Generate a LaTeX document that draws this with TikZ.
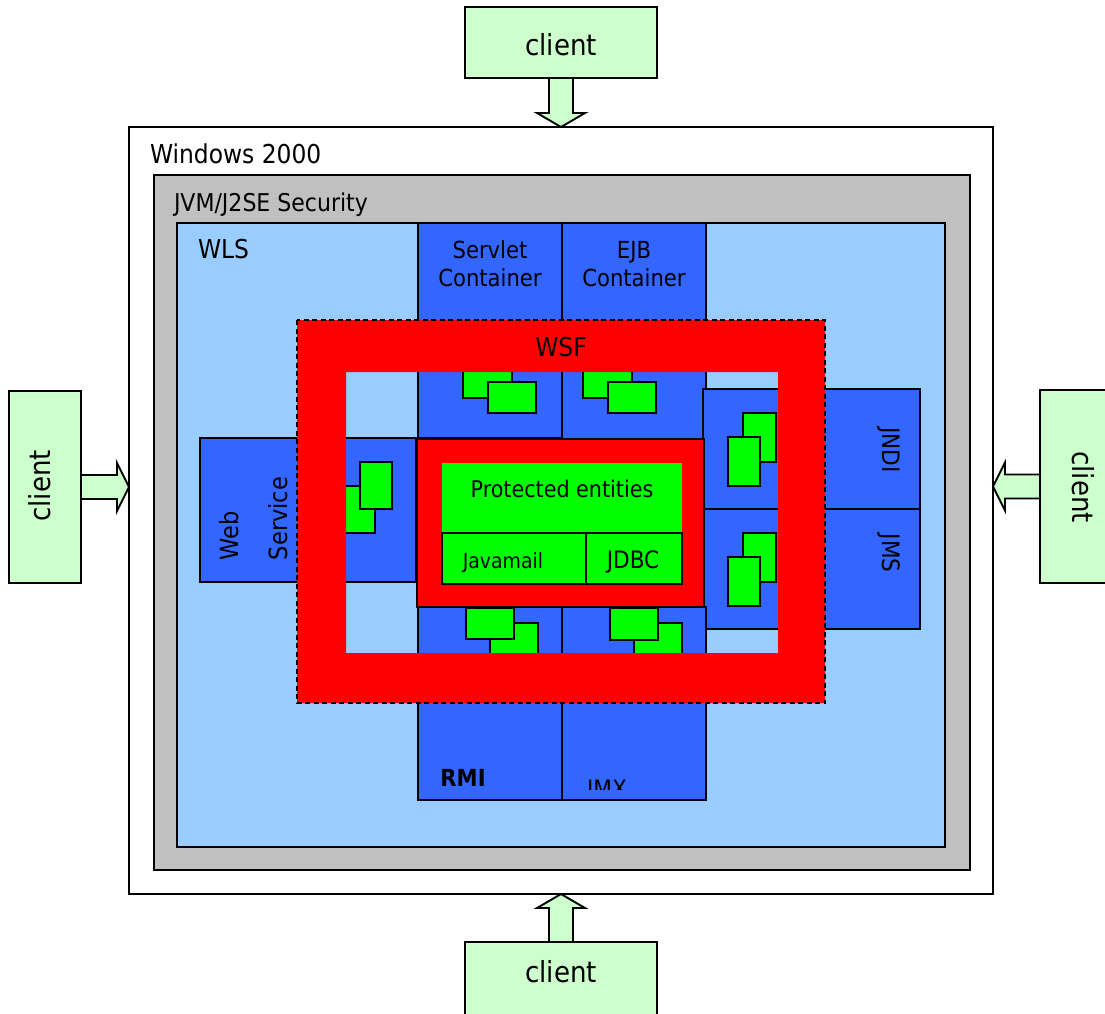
\documentclass[tikz,border=0pt]{standalone}
\usepackage{fontspec}
\setmainfont{DejaVu Sans Condensed}
\usepackage{xcolor}
\usetikzlibrary{calc, positioning}

\definecolor{clientgreen}{HTML}{CCFFCC}
\definecolor{wlsblue}{HTML}{99CCFF}
\definecolor{contblue}{HTML}{3366FF}
\definecolor{jvmgray}{HTML}{C0C0C0}
\definecolor{iconfill}{HTML}{00FF00}
\definecolor{wsfred}{HTML}{FF0000}

\newcommand{\pxfont}[1]{\fontsize{#1}{#1}\selectfont}

\begin{document}
\begin{tikzpicture}[x=1pt, y=-1pt, line width=1.9pt,
    every node/.style={inner sep=0pt, outer sep=0pt},
    box/.style={draw, anchor=north west},
    client/.style={box, fill=clientgreen},
    cont/.style={box, fill=contblue},
    icon/.style={draw, fill=iconfill},
    blockarr/.style={draw, fill=clientgreen, line join=miter}]
    \useasboundingbox (0,0) rectangle (1105,1013);
    \clip (0,0) rectangle (1105,1013);

    % 1. Lop nen
    \node[box, fill=white, minimum width=864, minimum height=767] (win) at (129,127) {};
    \node[box, fill=jvmgray, minimum width=816, minimum height=695] (jvm) at (154,175) {};
    \node[box, fill=wlsblue, minimum width=768, minimum height=624] (wls) at (177,223) {};

    % 2. Cac container
    \node[cont, minimum width=144, minimum height=215] (servlet) at (418,223) {};
    \node[cont, minimum width=144, minimum height=217] (ejb) at (562,223) {};
    \node[cont, minimum width=216, minimum height=144] (websvc) at (200,438) {};
    \node[cont, minimum width=217, minimum height=120] (jndi) at (703,389) {};
    \node[cont, minimum width=217, minimum height=120] (jms) at (703,509) {};
    \node[cont, minimum width=144, minimum height=193] (rmi) at (418,607) {};
    \node[cont, minimum width=144, minimum height=193] (jmx) at (562,607) {};

    % 3. Bieu tuong xanh
    \foreach \xa/\ya/\xb/\yb in {463/367/512/398, 488/382/536/413,
        583/367/632/398, 608/382/656/413,
        343/486/375/533, 360/462/392/509,
        743/413/776/462, 728/437/760/486,
        743/533/776/582, 728/557/760/606,
        490/623/538/654, 466/608/514/639,
        634/623/682/654, 610/608/658/640} {
        \draw[icon] (\xa,\ya) rectangle (\xb,\yb);
    }

    % 4. Protected entities
    \node[box, fill=wsfred, minimum width=287, minimum height=168] (prot) at (417,439) {};
    \node[anchor=north west, fill=iconfill, minimum width=240, minimum height=70] (pent) at (442,463) {};
    \node[box, fill=iconfill, minimum width=144, minimum height=51] (javamail) at (442,533) {};
    \node[box, fill=iconfill, minimum width=96, minimum height=51] (jdbc) at (586,533) {};

    % 5. Khung WSF
    \node[anchor=north west, minimum width=528, minimum height=383] (wsf) at (297,320) {};
    \fill[wsfred, even odd rule] (wsf.north west) rectangle (wsf.south east)
        ($(wsf.north west)+(49,52)$) rectangle ($(wsf.south east)+(-47,-50)$);
    \draw[dash pattern=on 5pt off 3.5pt] (wsf.north west) rectangle (wsf.south east);

    % 6. Client va mui ten
    \node[client, minimum width=192, minimum height=71] (ctop) at (465,7) {};
    \node[client, minimum width=72, minimum height=192] (cleft) at (9,391) {};
    \node[client, minimum width=80, minimum height=193] (cright) at (1040,390) {};
    \node[client, minimum width=192, minimum height=90] (cbot) at (465,942) {};
    \coordinate (tipT) at (ctop.south |- win.north);
    \coordinate (tipL) at (cleft.east -| win.west);
    \coordinate (tipR) at (cright.west -| win.east);
    \coordinate (tipB) at (cbot.north |- win.south);
    \draw[blockarr] ($(ctop.south)+(-12,0)$) -- ($(tipT)+(-12,-14)$) -- ($(tipT)+(-24,-14)$)
        -- (tipT) -- ($(tipT)+(24,-14)$) -- ($(tipT)+(12,-14)$) -- ($(ctop.south)+(12,0)$) -- cycle;
    \draw[blockarr] ($(cbot.north)+(-12,0)$) -- ($(tipB)+(-12,14)$) -- ($(tipB)+(-24,14)$)
        -- (tipB) -- ($(tipB)+(24,14)$) -- ($(tipB)+(12,14)$) -- ($(cbot.north)+(12,0)$) -- cycle;
    \draw[blockarr] ($(cleft.east)+(0,-12)$) -- ($(tipL)+(-12,-12)$) -- ($(tipL)+(-12,-24)$)
        -- (tipL) -- ($(tipL)+(-12,24)$) -- ($(tipL)+(-12,12)$) -- ($(cleft.east)+(0,12)$) -- cycle;
    \draw[blockarr] ($(cright.west)+(0,-12)$) -- ($(tipR)+(12,-12)$) -- ($(tipR)+(12,-24)$)
        -- (tipR) -- ($(tipR)+(12,24)$) -- ($(tipR)+(12,12)$) -- ($(cright.west)+(0,12)$) -- cycle;

    % 7. Chu
    \node[anchor=base, font={\pxfont{29}}] (ctoptxt) at (561,55) {client};
    \node[anchor=base, font={\pxfont{29}}] (cbottxt) at (561,982) {client};
    \node[anchor=base, rotate=90, font={\pxfont{29}}] (clefttxt) at (50,486) {client};
    \node[anchor=base, rotate=-90, font={\pxfont{29}}] (crighttxt) at (1072,487) {client};
    \node[anchor=base west, font={\pxfont{26}}] (wintxt) at (150,163) {Windows 2000};
    \node[anchor=base west, font={\pxfont{24.5}}] (jvmtxt) at (174,211) {JVM/J2SE Security};
    \node[anchor=base west, font={\pxfont{26}}] (wlstxt) at (198,258) {WLS};
    \node[anchor=north, align=center, font={\fontsize{23.5}{28}\selectfont}] (servlettxt) at (490,241) {Servlet\\Container};
    \node[anchor=north, align=center, font={\fontsize{23.5}{28}\selectfont}] (ejbtxt) at (634,241) {EJB\\Container};
    \node[anchor=base, font={\pxfont{26}}] (wsftxt) at (561,356) {WSF};
    \node[anchor=base, font={\pxfont{23}}] (penttxt) at (562,497) {Protected entities};
    \node[anchor=base, font={\pxfont{21}}] (javamailtxt) at (503,568) {Javamail};
    \node[anchor=base, font={\pxfont{24}}] (jdbctxt) at (633,568) {JDBC};
    \node[anchor=base west, rotate=90, font={\pxfont{25}}] (webtxt) at (238,560) {Web};
    \node[anchor=base west, rotate=90, font={\pxfont{25}}] (servicetxt) at (287,560) {Service};
    \node[anchor=base, rotate=-90, font={\pxfont{24}}] (jnditxt) at (882,450) {JNDI};
    \node[anchor=base, rotate=-90, font={\pxfont{24}}] (jmstxt) at (882,553) {JMS};
    \node[anchor=base, font={\bfseries\pxfont{23.5}}] (rmitxt) at (463,786) {RMI};
    \begin{scope}
        \clip (jmx.north west) rectangle (706,789);
        \node[anchor=base, font={\pxfont{24}}] (jmxtxt) at (607,797) {JMX};
    \end{scope}
\end{tikzpicture}
\end{document}
